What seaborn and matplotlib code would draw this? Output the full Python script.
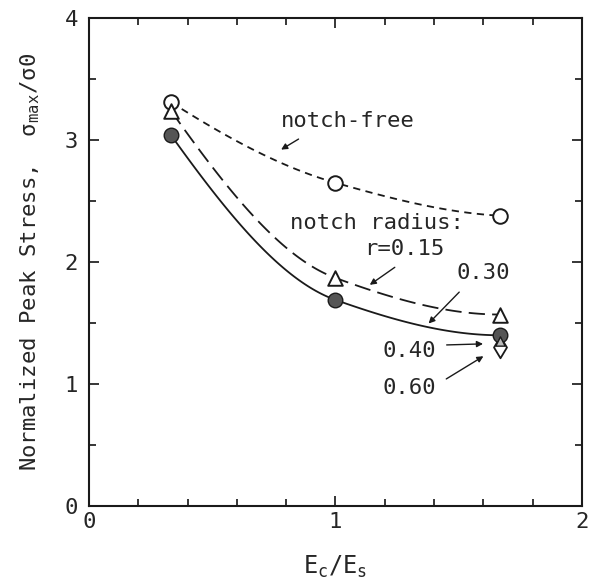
import numpy as np
import pandas as pd
import matplotlib
matplotlib.use('Agg')
import matplotlib.pyplot as plt
import seaborn as sns
from matplotlib.ticker import MultipleLocator

# data
ratio = [0.333, 1.0, 1.667]
notch_free = [3.31, 2.65, 2.38]
r_015 = [3.24, 1.87, 1.57]
r_030 = [3.04, 1.69, 1.40]
r_040_x, r_040_y = [1.667], [1.35]
r_060_x, r_060_y = [1.667], [1.30]

sns.set_theme(style='ticks')
plt.rcParams['font.family'] = ['DejaVu Sans Mono', 'DejaVu Sans']
plt.rcParams['mathtext.fontset'] = 'custom'
plt.rcParams['mathtext.rm'] = 'DejaVu Sans Mono'
plt.rcParams['mathtext.it'] = 'DejaVu Sans Mono'

fig = plt.figure(figsize=(5.89, 5.83), dpi=100)
ax = fig.add_axes([0.151, 0.132, 0.837, 0.837])


def smooth(xs, ys, n=60):
    # monotone cubic (pchip) through the points, only for the drawn curve
    x = np.asarray(xs, float)
    y = np.asarray(ys, float)
    h = np.diff(x)
    d = np.diff(y) / h
    m = np.zeros_like(y)
    for k in range(1, len(x) - 1):
        if d[k - 1] * d[k] > 0:
            w1 = 2 * h[k] + h[k - 1]
            w2 = h[k] + 2 * h[k - 1]
            m[k] = (w1 + w2) / (w1 / d[k - 1] + w2 / d[k])
    for k, (i, j) in [(0, (0, 1)), (-1, (-1, -2))]:
        mk = ((2 * h[i] + h[j]) * d[i] - h[i] * d[j]) / (h[i] + h[j])
        if np.sign(mk) != np.sign(d[i]):
            mk = 0.0
        elif np.sign(d[i]) != np.sign(d[j]) and abs(mk) > 3 * abs(d[i]):
            mk = 3 * d[i]
        m[k] = mk
    xx, yy = [], []
    for k in range(len(x) - 1):
        t = np.linspace(0, 1, n)
        h00 = 2 * t**3 - 3 * t**2 + 1
        h10 = t**3 - 2 * t**2 + t
        h01 = -2 * t**3 + 3 * t**2
        h11 = t**3 - t**2
        xx.append(x[k] + t * h[k])
        yy.append(h00 * y[k] + h10 * h[k] * m[k] + h01 * y[k + 1] + h11 * h[k] * m[k + 1])
    return np.concatenate(xx), np.concatenate(yy)


for ys, ls in [(notch_free, (0, (4, 3))), (r_015, (0, (9, 4))), (r_030, '-')]:
    xx, yy = smooth(ratio, ys)
    sns.lineplot(x=xx, y=yy, ax=ax, color='k', linestyle=ls, linewidth=1.3,
                 sort=False)

sns.scatterplot(x=ratio, y=notch_free, ax=ax, marker='o', s=110, color='white',
                edgecolor='k', linewidth=1.4, zorder=3)
sns.scatterplot(x=ratio, y=r_015, ax=ax, marker='^', s=110, color='white',
                edgecolor='k', linewidth=1.4, zorder=3)
sns.scatterplot(x=r_060_x, y=r_060_y, ax=ax, marker='d', s=120, color='white',
                edgecolor='k', linewidth=1.3, zorder=3)
sns.scatterplot(x=ratio, y=r_030, ax=ax, marker='o', s=110, color='#555555',
                edgecolor='k', linewidth=1.0, zorder=4)
sns.scatterplot(x=r_040_x, y=r_040_y, ax=ax, marker='^', s=45, color='#bbbbbb',
                edgecolor='k', linewidth=1.0, zorder=5)

ax.set_xlim(0, 2)
ax.set_ylim(0, 4)
ax.xaxis.set_major_locator(MultipleLocator(1))
ax.xaxis.set_minor_locator(MultipleLocator(0.2))
ax.yaxis.set_major_locator(MultipleLocator(1))
ax.yaxis.set_minor_locator(MultipleLocator(0.5))
ax.tick_params(which='both', direction='in', top=True, right=True, width=1.3,
               labelsize=16)
ax.tick_params(which='major', length=7)
ax.tick_params(which='minor', length=5)
ax.tick_params(axis='x', pad=4)
ax.tick_params(axis='y', pad=8)
for sp in ax.spines.values():
    sp.set_linewidth(1.5)
    sp.set_color('k')

ax.set_xlabel('E$_{c}$/E$_{s}$', fontsize=17, labelpad=16)
ax.set_ylabel('Normalized Peak Stress,  σ$_{\\rm max}$/σ0', fontsize=16,
              labelpad=16)

akw = dict(arrowstyle='-|>', color='k', lw=1.0, mutation_scale=9)
fs = 16
ax.text(1.05, 3.16, 'notch-free', fontsize=fs, ha='center', va='center')
ax.annotate('', xy=(0.77, 2.91), xytext=(0.86, 3.02), arrowprops=akw)
ax.text(1.17, 2.32, 'notch radius:', fontsize=fs, ha='center', va='center')
ax.text(1.28, 2.11, 'r=0.15', fontsize=fs, ha='center', va='center')
ax.annotate('', xy=(1.13, 1.80), xytext=(1.25, 1.97), arrowprops=akw)
ax.text(1.60, 1.91, '0.30', fontsize=fs, ha='center', va='center')
ax.annotate('', xy=(1.37, 1.48), xytext=(1.51, 1.77), arrowprops=akw)
ax.text(1.30, 1.27, '0.40', fontsize=fs, ha='center', va='center')
ax.annotate('', xy=(1.61, 1.33), xytext=(1.44, 1.32), arrowprops=akw)
ax.text(1.30, 0.97, '0.60', fontsize=fs, ha='center', va='center')
ax.annotate('', xy=(1.61, 1.24), xytext=(1.44, 1.03), arrowprops=akw)

fig.savefig('out.png', dpi=100)
